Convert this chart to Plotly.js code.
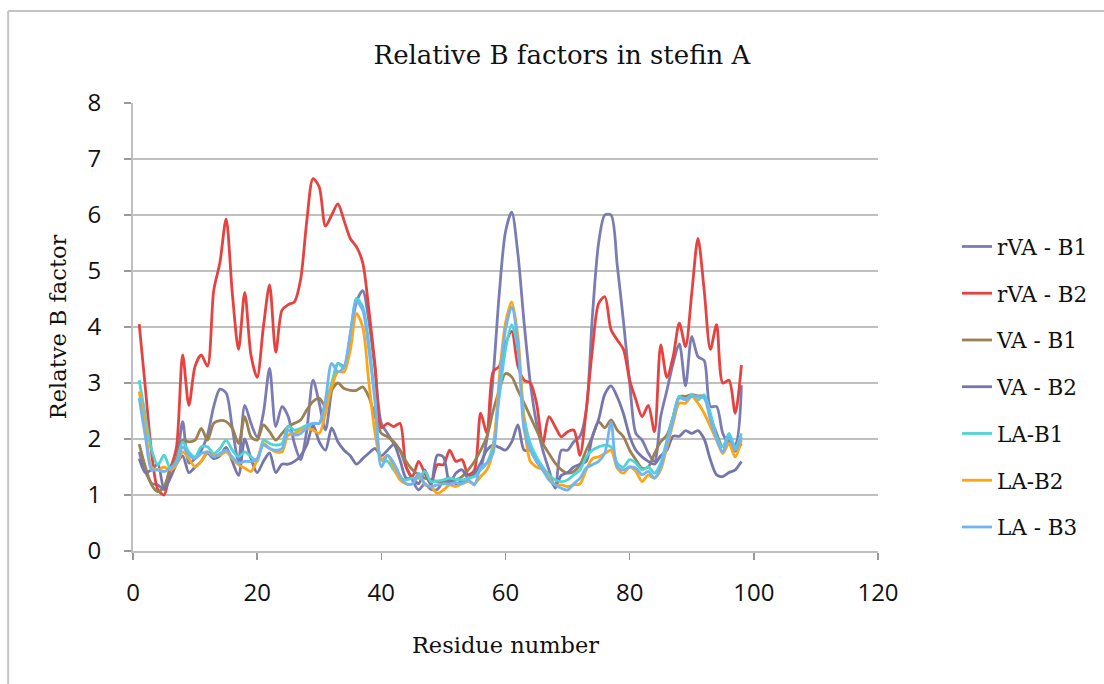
<!DOCTYPE html>
<html>
<head>
<meta charset="utf-8">
<script src="https://cdn.plot.ly/plotly-3.0.1.min.js"></script>
<style>html,body{margin:0;padding:0;background:#fff;}#chart{width:1104px;height:684px;}</style>
</head>
<body>
<div id="chart"></div>
<script>
// Residue numbers 1..98
const residues = [1,2,3,4,5,6,7,8,9,10,11,12,13,14,15,16,17,18,19,20,21,22,23,24,25,26,27,28,29,30,31,32,33,34,35,36,37,38,39,40,41,42,43,44,45,46,47,48,49,50,51,52,53,54,55,56,57,58,59,60,61,62,63,64,65,66,67,68,69,70,71,72,73,74,75,76,77,78,79,80,81,82,83,84,85,86,87,88,89,90,91,92,93,94,95,96,97,98];

const seriesNames = ["rVA - B1","rVA - B2","VA - B1","VA - B2","LA-B1","LA-B2","LA - B3"];

const rVA_B1 = [1.77,1.42,1.21,1.18,1.10,1.50,1.65,2.31,1.57,1.65,1.80,2.07,2.58,2.89,2.82,2.19,1.60,2.60,2.28,2.04,2.46,3.26,2.22,2.58,2.40,1.92,1.63,2.16,3.05,2.64,2.16,2.87,3.35,3.30,3.85,4.45,4.65,4.10,3.23,2.28,2.10,1.92,1.80,1.50,1.27,1.09,1.20,1.10,1.10,1.25,1.30,1.20,1.25,1.30,1.35,1.50,2.00,3.10,4.60,5.70,6.05,5.30,4.07,3.00,2.28,1.80,1.45,1.12,1.80,1.80,1.95,2.05,2.50,4.20,5.50,6.00,6.00,5.10,4.10,3.00,2.10,1.98,1.75,1.60,2.40,2.87,3.35,3.70,2.95,3.83,3.47,3.40,2.58,2.58,2.10,1.92,1.90,2.96];

const rVA_B2 = [4.05,2.90,1.75,1.10,1.00,1.45,1.85,3.50,2.60,3.30,3.50,3.30,4.65,5.15,5.93,4.60,3.60,4.62,3.50,3.10,4.00,4.75,3.55,4.30,4.40,4.45,4.85,5.90,6.65,6.50,5.80,6.00,6.20,5.90,5.58,5.43,5.15,4.30,3.30,2.20,2.28,2.22,2.28,1.50,1.33,1.60,1.39,1.20,1.54,1.54,1.80,1.60,1.63,1.36,1.45,2.46,2.10,3.20,3.30,3.70,3.92,3.30,3.05,3.00,2.64,1.92,2.40,2.22,2.04,2.13,2.16,1.71,2.52,3.60,4.42,4.54,3.95,3.77,3.60,3.05,2.70,2.40,2.60,2.13,3.68,3.10,3.47,4.07,3.65,4.60,5.58,4.66,3.60,4.04,3.00,3.05,2.46,3.32];

const VA_B1 = [1.91,1.50,1.18,1.06,1.15,1.45,1.65,1.98,1.95,1.98,2.19,1.98,2.28,2.33,2.31,2.19,1.92,2.40,2.04,1.98,2.25,2.13,1.98,2.10,2.22,2.28,2.34,2.52,2.67,2.73,2.58,2.87,3.00,2.90,2.87,2.87,2.93,2.75,2.40,2.10,2.04,1.95,1.80,1.60,1.45,1.36,1.30,1.27,1.24,1.24,1.24,1.27,1.33,1.45,1.60,1.80,2.04,2.50,2.87,3.17,3.11,2.87,2.64,2.40,2.16,1.92,1.74,1.57,1.45,1.39,1.42,1.54,1.80,2.04,2.31,2.20,2.34,2.16,2.04,1.80,1.63,1.48,1.50,1.74,1.95,2.07,2.40,2.76,2.76,2.79,2.77,2.76,2.40,2.10,1.86,1.98,1.78,1.92];

const VA_B2 = [1.65,1.40,1.45,1.55,1.10,1.30,1.55,1.70,1.40,1.50,1.60,1.75,1.65,1.70,1.85,1.60,1.35,2.00,1.65,1.40,1.60,1.75,1.40,1.55,1.55,1.60,1.70,1.90,2.25,1.95,1.80,2.20,1.95,1.80,1.70,1.55,1.65,1.75,1.83,1.70,1.80,1.90,1.63,1.30,1.30,1.20,1.45,1.18,1.71,1.68,1.20,1.39,1.45,1.30,1.40,1.57,1.80,1.89,1.85,1.80,1.95,2.25,1.80,1.80,1.60,1.45,1.30,1.15,1.35,1.40,1.50,1.55,1.60,2.05,2.35,2.80,2.95,2.75,2.45,2.05,1.80,1.68,1.60,1.55,1.70,1.80,2.05,2.05,2.15,2.10,2.15,2.00,1.63,1.36,1.33,1.40,1.45,1.60];

const LA_B1 = [3.05,2.40,1.80,1.54,1.71,1.48,1.60,1.95,1.77,1.68,1.86,1.86,1.74,1.83,1.98,1.80,1.68,1.77,1.68,1.60,1.98,1.92,1.89,1.92,2.23,2.16,2.19,2.25,2.28,2.28,2.64,2.99,3.35,3.26,3.83,4.51,4.36,3.70,2.70,1.63,1.60,1.45,1.30,1.27,1.30,1.30,1.42,1.24,1.25,1.27,1.30,1.28,1.27,1.30,1.33,1.45,1.57,1.90,2.76,3.60,4.04,3.60,2.40,1.92,1.68,1.50,1.36,1.27,1.24,1.27,1.36,1.45,1.68,1.80,1.86,1.89,1.86,1.57,1.50,1.63,1.57,1.45,1.50,1.39,1.57,1.98,2.40,2.76,2.70,2.79,2.70,2.79,2.46,2.04,1.86,2.10,1.85,2.10];

const LA_B2 = [2.85,2.20,1.50,1.45,1.50,1.45,1.54,1.77,1.65,1.50,1.60,1.77,1.71,1.71,1.77,1.65,1.54,1.48,1.42,1.63,1.92,1.83,1.77,1.77,2.07,2.10,2.16,2.19,2.16,2.10,2.46,2.93,3.20,3.20,3.59,4.24,4.00,3.00,2.10,1.63,1.71,1.50,1.27,1.20,1.20,1.36,1.18,1.15,1.03,1.09,1.18,1.15,1.20,1.24,1.20,1.33,1.45,1.80,3.10,4.07,4.45,3.83,2.28,1.60,1.50,1.45,1.30,1.18,1.18,1.15,1.18,1.20,1.45,1.65,1.68,1.74,1.80,1.48,1.39,1.50,1.42,1.24,1.36,1.30,1.45,1.86,2.28,2.64,2.64,2.76,2.64,2.46,2.22,1.98,1.74,1.92,1.68,1.98];

const LA_B3 = [2.73,2.04,1.45,1.45,1.42,1.48,1.57,1.86,1.71,1.65,1.74,1.77,1.68,1.74,1.80,1.68,1.57,1.60,1.60,1.65,1.89,1.83,1.80,1.83,2.16,2.07,2.10,2.20,2.28,2.28,2.70,3.35,3.20,3.29,3.89,4.45,4.30,3.59,2.64,1.50,1.71,1.57,1.35,1.20,1.20,1.39,1.20,1.15,1.18,1.20,1.20,1.22,1.20,1.27,1.18,1.50,1.57,1.75,2.93,3.95,4.36,3.70,2.16,1.80,1.60,1.45,1.27,1.18,1.12,1.09,1.20,1.30,1.48,1.54,1.60,1.75,2.30,1.50,1.45,1.50,1.48,1.36,1.42,1.30,1.50,1.92,2.34,2.73,2.70,2.76,2.76,2.73,2.34,2.00,1.77,2.04,1.80,2.04];

const seriesValues = [rVA_B1, rVA_B2, VA_B1, VA_B2, LA_B1, LA_B2, LA_B3];
const seriesColors = ["#7b7cb3","#e6423f","#9c8052","#7576aa","#4dd4d4","#ffa512","#6fb4f5"];

const xTickVals = [0,20,40,60,80,100,120];
const yTickVals = [0,1,2,3,4,5,6,7,8];

const serif = "DejaVu Serif, Liberation Serif, serif";
const sans = "Open Sans, Liberation Sans, sans-serif";

const traces = seriesNames.map((name, i) => ({
  type: "scatter",
  mode: "lines",
  name: name,
  legendgroup: "g" + i,
  x: residues,
  y: seriesValues[i],
  line: {color: seriesColors[i], width: 2.8, shape: "spline", smoothing: 0.8},
  hoverinfo: "x+y+name"
}));

// plot area in pixels: x 133..879, y 103..551
const px = X => (X - 133) / 746;
const py = Y => (551 - Y) / 448;

const layout = {
  width: 1104,
  height: 684,
  paper_bgcolor: "#ffffff",
  plot_bgcolor: "#ffffff",
  margin: {l: 133, r: 225, t: 103, b: 133, pad: 0},
  title: {
    text: "Relative B factors in stefin A",
    font: {family: serif, size: 26, color: "#111111"},
    xref: "container", x: 0.509, xanchor: "center",
    yref: "container", y: 1 - 55/684, yanchor: "middle"
  },
  xaxis: {
    range: [0, 120],
    tickvals: xTickVals,
    ticktext: xTickVals.map(String),
    showgrid: false,
    zeroline: false,
    showline: true,
    linecolor: "#bfbfbf",
    linewidth: 2,
    ticks: "outside",
    ticklen: 7,
    tickwidth: 1.5,
    tickcolor: "#999999",
    ticklabelstandoff: 12,
    tickfont: {family: sans, size: 24, color: "#111111"},
    title: {text: "Residue number", font: {family: serif, size: 22.5, color: "#111111"}, standoff: 30}
  },
  yaxis: {
    range: [0, 8],
    tickvals: yTickVals,
    ticktext: yTickVals.map(String),
    showgrid: true,
    gridcolor: "#bfbfbf",
    gridwidth: 2,
    zeroline: false,
    showline: true,
    linecolor: "#bfbfbf",
    linewidth: 2,
    ticks: "outside",
    ticklen: 7,
    tickwidth: 1.5,
    tickcolor: "#999999",
    ticklabelstandoff: 18,
    tickfont: {family: sans, size: 24, color: "#111111"},
    title: {text: "Relatve B factor", font: {family: serif, size: 22.5, color: "#111111"}, standoff: 15}
  },
  legend: {
    x: px(957), xanchor: "left",
    y: py(226), yanchor: "top",
    font: {family: serif, size: 21.5, color: "#111111"},
    tracegroupgap: 15.8,
    bgcolor: "rgba(0,0,0,0)",
    borderwidth: 0
  },
  showlegend: true,
  shapes: [
    {type: "line", xref: "paper", yref: "paper", x0: px(8), x1: px(8), y0: py(690), y1: py(11), line: {color: "#c4c4c4", width: 2}},
    {type: "line", xref: "paper", yref: "paper", x0: px(8), x1: px(1110), y0: py(11), y1: py(11), line: {color: "#c4c4c4", width: 2}}
  ]
};

Plotly.newPlot("chart", traces, layout, {displayModeBar: false, staticPlot: true});
</script>
</body>
</html>
